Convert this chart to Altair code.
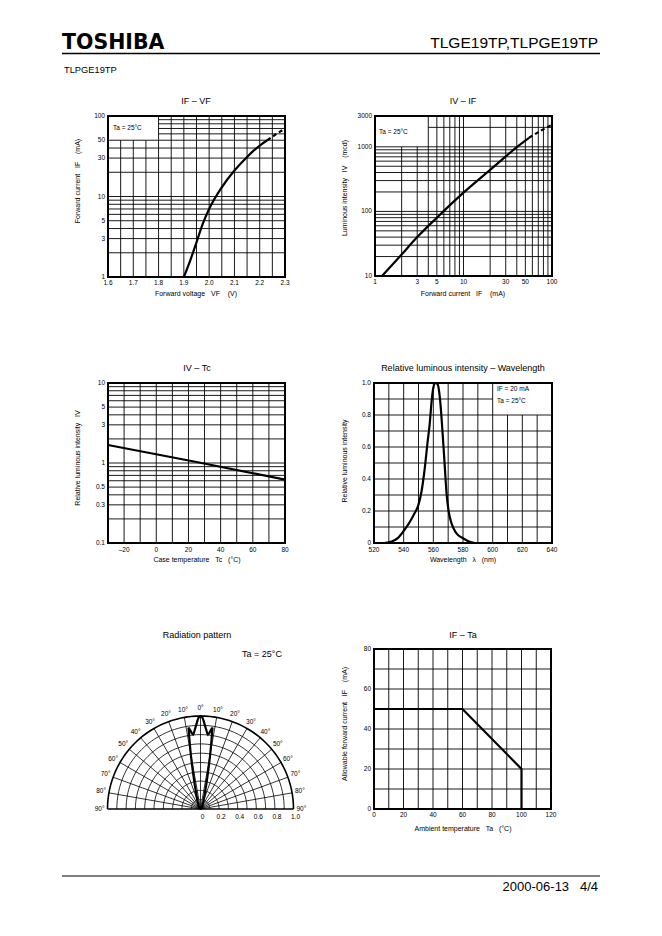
import altair as alt
import numpy as np
import pandas as pd

FONT = "Liberation Sans"
NB = "\u00a0"

# ---------------- data ----------------
# IF - VF
vf_solid = [1.90, 1.925, 1.95, 1.975, 2.00, 2.05, 2.10, 2.15, 2.20, 2.23]
if_solid = [1.0, 1.6, 2.7, 4.6, 7.0, 13.0, 21.0, 31.0, 43.0, 50.0]
vf_dashed = [2.23, 2.265, 2.30]
if_dashed = [50.0, 59.5, 70.0]
vf_tick_vals = [1.6, 1.7, 1.8, 1.9, 2.0, 2.1, 2.2, 2.3]
vf_tick_text = ["1.6", "1.7", "1.8", "1.9", "2.0", "2.1", "2.2", "2.3"]
if_tick_vals = [1, 3, 5, 10, 30, 50, 100]
if_tick_text = ["1", "3", "5", "10", "30", "50", "100"]

# IV - IF
ivif_if = [1.2, 2, 3, 5, 10, 20, 30, 40, 55]
ivif_iv = [10, 21.5, 40, 80, 195, 440, 710, 990, 1380]
ivif_if_dashed = [55, 75, 100]
ivif_iv_dashed = [1380, 1780, 2200]
ivif_x_vals = [1, 3, 5, 10, 30, 50, 100]
ivif_x_text = ["1", "3", "5", "10", "30", "50", "100"]
ivif_y_vals = [10, 100, 1000, 3000]
ivif_y_text = ["10", "100", "1000", "3000"]

# IV - Tc
tc_vals = [-30, 25, 80]
tc_iv = [1.68, 1.03, 0.62]
tc_x_vals = [-20, 0, 20, 40, 60, 80]
tc_x_text = ["\u201320", "0", "20", "40", "60", "80"]
tc_y_vals = [0.1, 0.3, 0.5, 1, 3, 5, 10]
tc_y_text = ["0.1", "0.3", "0.5", "1", "3", "5", "10"]

# Relative luminous intensity - wavelength
wl_nm = [527, 532, 536, 540, 544, 547, 550, 552, 554, 556, 557.5, 559, 560, 561.5,
         563, 564.5, 566, 567.5, 569, 570.3, 572, 573.5, 576, 580, 584, 588]
wl_rel = [0.0, 0.01, 0.03, 0.075, 0.13, 0.18, 0.24, 0.32, 0.45, 0.62, 0.74, 0.9, 0.97, 1.0,
          0.99, 0.9, 0.72, 0.51, 0.30, 0.2, 0.13, 0.094, 0.055, 0.03, 0.01, 0.0]
wl_x_vals = [520, 540, 560, 580, 600, 620, 640]
wl_x_text = ["520", "540", "560", "580", "600", "620", "640"]
wl_y_vals = [0, 0.2, 0.4, 0.6, 0.8, 1.0]
wl_y_text = ["0", "0.2", "0.4", "0.6", "0.8", "1.0"]

# Radiation pattern (one half, mirrored about 0 deg)
rad_angle = [0, 1, 2, 3, 4, 5, 5.7, 6.5, 7.5, 8.4, 8.9, 9.5, 10.2, 11, 12, 13.5, 15, 17, 20, 25, 35, 50, 90]
rad_rel = [1.0, 0.99, 0.95, 0.9, 0.86, 0.82, 0.805, 0.82, 0.855, 0.885, 0.78, 0.68, 0.58, 0.47,
           0.36, 0.26, 0.19, 0.14, 0.10, 0.06, 0.03, 0.01, 0.0]
rad_r_vals = [0, 0.2, 0.4, 0.6, 0.8, 1.0]
rad_r_text = ["0", "0.2", "0.4", "0.6", "0.8", "1.0"]
rad_deg_vals = [-90, -80, -70, -60, -50, -40, -30, -20, -10, 0, 10, 20, 30, 40, 50, 60, 70, 80, 90]

# IF - Ta
ta_vals = [0, 60, 100, 100]
ta_if = [50, 50, 20, 0]
ta_x_vals = [0, 20, 40, 60, 80, 100, 120]
ta_x_text = ["0", "20", "40", "60", "80", "100", "120"]
ta_y_vals = [0, 20, 40, 60, 80]
ta_y_text = ["0", "20", "40", "60", "80"]


# ---------------- helpers ----------------
def P(v):
    """page pixel -> plot-area pixel (page margin is 8px, padding 0)"""
    return v - 8


def lin(domain, r0, r1):
    return alt.Scale(type="linear", domain=domain, range=[P(r0), P(r1)], nice=False, zero=False)


def logs(domain, r0, r1):
    return alt.Scale(type="log", domain=domain, range=[P(r0), P(r1)], nice=False)


def X(f, s):
    return alt.X(f, type="quantitative", scale=s, axis=None)


def Y(f, s):
    return alt.Y(f, type="quantitative", scale=s, axis=None)


def label(text, x, y, size=7, align="center", angle=0, weight="normal", font=FONT):
    return alt.Chart(pd.DataFrame({"t": [text]})).mark_text(
        align=align, baseline="middle", fontSize=size, font=font, fontWeight=weight,
        angle=angle, color="black"
    ).encode(text="t:N", x=alt.value(P(x)), y=alt.value(P(y)))


def hline(x0, x1, y, w=1.0):
    return alt.Chart(pd.DataFrame({"a": [0]})).mark_rule(color="black", strokeWidth=w).encode(
        x=alt.value(P(x0)), x2=alt.value(P(x1)), y=alt.value(P(y)))


def grid(vlines, hlines, sx, sy, w=0.9):
    out = []
    dv = pd.DataFrame(vlines, columns=["x", "y0", "y1"])
    out.append(alt.Chart(dv).mark_rule(color="black", strokeWidth=w).encode(
        x=X("x", sx), y=Y("y0", sy), y2=alt.Y2("y1")))
    dh = pd.DataFrame(hlines, columns=["y", "x0", "x1"])
    out.append(alt.Chart(dh).mark_rule(color="black", strokeWidth=w).encode(
        y=Y("y", sy), x=X("x0", sx), x2=alt.X2("x1")))
    return out


def frame(xd, yd, sx, sy, w=2.0):
    d = pd.DataFrame({"x0": [xd[0]], "x1": [xd[1]], "y0": [yd[0]], "y1": [yd[1]]})
    return alt.Chart(d).mark_rect(filled=False, stroke="black", strokeWidth=w).encode(
        x=X("x0", sx), x2=alt.X2("x1"), y=Y("y0", sy), y2=alt.Y2("y1"))


def curve(xs, ys, sx, sy, w=2.2, dash=None, interp="monotone"):
    d = pd.DataFrame({"x": xs, "y": ys, "i": list(range(len(xs)))})
    kw = dict(color="black", strokeWidth=w, interpolate=interp)
    if dash:
        kw["strokeDash"] = dash
    return alt.Chart(d).mark_line(**kw).encode(x=X("x", sx), y=Y("y", sy), order="i:Q")


def xticks(vals, texts, yval, sx, sy, dy, size=6.5):
    d = pd.DataFrame({"v": vals, "t": texts, "y": [yval] * len(vals)})
    return alt.Chart(d).mark_text(align="center", baseline="middle", dy=dy, fontSize=size,
                                  font=FONT, color="black").encode(
        x=X("v", sx), y=Y("y", sy), text="t:N")


def yticks(vals, texts, xval, sx, sy, dx=-3, size=6.5):
    d = pd.DataFrame({"v": vals, "t": texts, "x": [xval] * len(vals)})
    return alt.Chart(d).mark_text(align="right", baseline="middle", dx=dx, fontSize=size,
                                  font=FONT, color="black").encode(
        x=X("x", sx), y=Y("v", sy), text="t:N")


layers = []

# ---------------- header / footer ----------------
layers += [
    label("TOSHIBA", 62, 42.5, size=20.5, align="left", weight="bold", font="DejaVu Sans"),
    label("TLGE19TP,TLPGE19TP", 598, 42.5, size=15.5, align="right"),
    hline(62, 600, 53.5, 1.5),
    label("TLPGE19TP", 64, 70, size=9.3, align="left"),
    hline(62, 600, 876, 1.0),
    label("2000-06-13" + NB * 3 + "4/4", 598, 887, size=13, align="right"),
]

# ---------------- chart 1: IF - VF ----------------
s1x = lin([1.6, 2.3], 108, 285)
s1y = logs([1, 100], 277, 116)
v1 = [(x, 1, 50) for x in (1.65, 1.7, 1.75)] + [(round(1.8 + 0.05 * i, 2), 1, 100) for i in range(10)]
h1 = [(y, 1.6, 2.3) for y in (2, 3, 4, 5, 6, 7, 8, 9, 10, 20, 30, 40, 50)] + \
     [(y, 1.8, 2.3) for y in (60, 70, 80, 90)]
layers += grid(v1, h1, s1x, s1y)
layers += [
    frame([1.6, 2.3], [1, 100], s1x, s1y),
    curve(vf_solid, if_solid, s1x, s1y),
    curve(vf_dashed, if_dashed, s1x, s1y, dash=[4, 3]),
    xticks(vf_tick_vals, vf_tick_text, 1, s1x, s1y, dy=6),
    yticks(if_tick_vals, if_tick_text, 1.6, s1x, s1y),
    label("IF \u2013 VF", 196, 101, size=9),
    label("Ta = 25°C", 113, 128, size=6.5, align="left"),
    label("Forward voltage" + NB * 3 + "VF" + NB * 4 + "(V)", 196, 294, size=7),
    label("Forward current" + NB * 3 + "IF" + NB * 4 + "(mA)", 78, 181, size=7, angle=270),
]

# ---------------- chart 2: IV - IF ----------------
s2x = logs([1, 100], 375, 552)
s2y = logs([10, 3000], 276, 116)
v2 = [(x, 10, 1000) for x in (2, 3)] + \
     [(x, 10, 3000) for x in (4, 5, 6, 7, 8, 9, 10, 20, 30, 40, 50, 60, 70, 80, 90)]
h2 = [(y, 1, 100) for y in (20, 30, 40, 50, 60, 70, 80, 90, 100, 200, 300, 400, 500, 600, 700, 800, 900, 1000)] + \
     [(2000, 4, 100)]
layers += grid(v2, h2, s2x, s2y)
layers += [
    frame([1, 100], [10, 3000], s2x, s2y),
    curve(ivif_if, ivif_iv, s2x, s2y),
    curve(ivif_if_dashed, ivif_iv_dashed, s2x, s2y, dash=[4, 3]),
    xticks(ivif_x_vals, ivif_x_text, 10, s2x, s2y, dy=6),
    yticks(ivif_y_vals, ivif_y_text, 1, s2x, s2y),
    label("IV \u2013 IF", 463, 101, size=9),
    label("Ta = 25°C", 379, 132, size=6.5, align="left"),
    label("Forward current" + NB * 3 + "IF" + NB * 4 + "(mA)", 463, 294, size=7),
    label("Luminous intensity" + NB * 3 + "IV" + NB * 4 + "(mcd)", 345, 188, size=7, angle=270),
]

# ---------------- chart 3: IV - Tc ----------------
s3x = lin([-30, 80], 108, 285)
s3y = logs([0.1, 10], 543, 383)
v3 = [(x, 0.1, 10) for x in range(-20, 80, 10)]
h3 = [(y, -30, 80) for y in (0.2, 0.3, 0.4, 0.5, 0.6, 0.7, 0.8, 0.9, 1, 2, 3, 4, 5, 6, 7, 8, 9)]
layers += grid(v3, h3, s3x, s3y)
layers += [
    frame([-30, 80], [0.1, 10], s3x, s3y),
    curve(tc_vals, tc_iv, s3x, s3y, interp="linear"),
    xticks(tc_x_vals, tc_x_text, 0.1, s3x, s3y, dy=6.5),
    yticks(tc_y_vals, tc_y_text, -30, s3x, s3y),
    label("IV \u2013 Tc", 197, 368, size=9),
    label("Case temperature" + NB * 3 + "Tc" + NB * 3 + "(°C)", 197, 560, size=7),
    label("Relative luminous intensity" + NB * 3 + "IV", 78, 458, size=7, angle=270),
]

# ---------------- chart 4: spectrum ----------------
s4x = lin([520, 640], 374, 552)
s4y = lin([0, 1], 543, 383)
v4 = [(x, 0, 1) for x in range(530, 610, 10)] + [(x, 0, 0.8) for x in (610, 620, 630)]
h4 = [(round(0.1 * i, 1), 520, 640) for i in range(1, 9)] + [(0.9, 520, 600)]
layers += grid(v4, h4, s4x, s4y)
layers += [
    frame([520, 640], [0, 1], s4x, s4y),
    curve(wl_nm, wl_rel, s4x, s4y),
    xticks(wl_x_vals, wl_x_text, 0, s4x, s4y, dy=6.5),
    yticks(wl_y_vals, wl_y_text, 520, s4x, s4y),
    label("Relative luminous intensity \u2013 Wavelength", 463, 368, size=9),
    label("IF = 20 mA", 497, 389, size=6.5, align="left"),
    label("Ta = 25°C", 497, 401, size=6.5, align="left"),
    label("Wavelength" + NB * 3 + "\u03bb" + NB * 3 + "(nm)", 463, 560, size=7),
    label("Relative luminous intensity", 345, 461, size=7, angle=270),
]

# ---------------- chart 5: radiation pattern ----------------
CX, CY, R = 200.5, 809, 93
s5x = lin([-1, 1], CX - R, CX + R)
s5y = lin([0, 1], CY, CY - R)
to_x = "datum.r * sin(datum.a * PI / 180)"
to_y = "datum.r * cos(datum.a * PI / 180)"

arc_rows = [(round(0.1 * k, 1), a) for k in range(1, 10) for a in range(-90, 91, 3)]
arcs = pd.DataFrame(arc_rows, columns=["r", "a"])
outer = pd.DataFrame({"r": [1.0] * 61, "a": list(range(-90, 91, 3))})
spokes = pd.DataFrame({"a": list(range(-80, 81, 10))})
full_a = [-a for a in reversed(rad_angle[1:])] + rad_angle
full_r = list(reversed(rad_rel[1:])) + rad_rel
patt = pd.DataFrame({"a": full_a, "r": full_r, "i": list(range(len(full_a)))})
deg = pd.DataFrame({"a": rad_deg_vals, "t": [f"{abs(a)}°" for a in rad_deg_vals], "r": [1.085] * len(rad_deg_vals)})
rlab = pd.DataFrame({"v": rad_r_vals, "t": rad_r_text, "y": [0] * len(rad_r_vals)})

layers += [
    alt.Chart(arcs).transform_calculate(x=to_x, y=to_y).mark_line(color="black", strokeWidth=0.8).encode(
        x=X("x", s5x), y=Y("y", s5y), detail="r:N", order="a:Q"),
    alt.Chart(outer).transform_calculate(x=to_x, y=to_y).mark_line(color="black", strokeWidth=1.6).encode(
        x=X("x", s5x), y=Y("y", s5y), order="a:Q"),
    alt.Chart(spokes).transform_calculate(
        x0="0", y0="0", x1="sin(datum.a * PI / 180)", y1="cos(datum.a * PI / 180)"
    ).mark_rule(color="black", strokeWidth=0.8).encode(
        x=X("x0", s5x), x2=alt.X2("x1"), y=Y("y0", s5y), y2=alt.Y2("y1")),
    alt.Chart(pd.DataFrame({"x0": [-1], "x1": [1], "y": [0]})).mark_rule(color="black", strokeWidth=1.6).encode(
        x=X("x0", s5x), x2=alt.X2("x1"), y=Y("y", s5y)),
    alt.Chart(patt).transform_calculate(x=to_x, y=to_y).mark_line(color="black", strokeWidth=2.2).encode(
        x=X("x", s5x), y=Y("y", s5y), order="i:Q"),
    alt.Chart(deg).transform_calculate(x=to_x, y=to_y).mark_text(
        fontSize=6.5, font=FONT, color="black", align="center", baseline="middle").encode(
        x=X("x", s5x), y=Y("y", s5y), text="t:N"),
    alt.Chart(rlab).mark_text(fontSize=6.5, font=FONT, color="black", align="center",
                              baseline="middle", dx=2, dy=8).encode(
        x=X("v", s5x), y=Y("y", s5y), text="t:N"),
    label("Radiation pattern", 197, 634.5, size=9),
    label("Ta = 25°C", 262, 653.5, size=9),
]

# ---------------- chart 6: IF - Ta ----------------
s6x = lin([0, 120], 374, 551)
s6y = lin([0, 80], 809, 649)
v6 = [(x, 0, 80) for x in range(10, 120, 10)]
h6 = [(y, 0, 120) for y in range(10, 80, 10)]
layers += grid(v6, h6, s6x, s6y)
layers += [
    frame([0, 120], [0, 80], s6x, s6y),
    curve(ta_vals, ta_if, s6x, s6y, w=2.2, interp="linear"),
    xticks(ta_x_vals, ta_x_text, 0, s6x, s6y, dy=6),
    yticks(ta_y_vals, ta_y_text, 0, s6x, s6y),
    label("IF \u2013 Ta", 463, 635, size=9),
    label("Ambient temperature" + NB * 3 + "Ta" + NB * 3 + "(°C)", 463, 829, size=7),
    label("Allowable forward current" + NB * 3 + "IF" + NB * 4 + "(mA)", 345, 724, size=7, angle=270),
]

chart = alt.layer(*layers).resolve_scale(x="independent", y="independent").properties(
    width=646, height=920, padding=0, autosize=alt.AutoSizeParams(type="none"),
    background="white",
).configure_view(stroke=None)

chart.save("out.html", embed_options={"renderer": "svg", "actions": False})
